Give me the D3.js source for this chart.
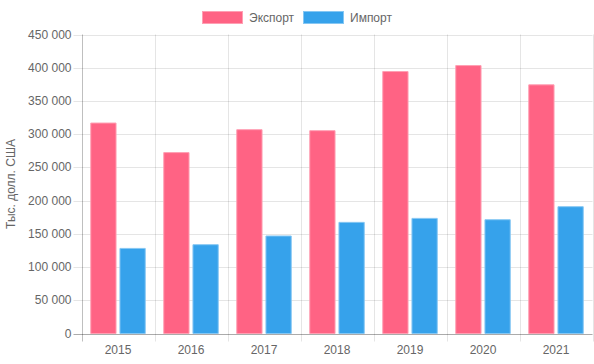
<!DOCTYPE html>
<html>
<head>
<meta charset="utf-8">
<script src="https://cdn.jsdelivr.net/npm/d3@7"></script>
<style>
  body { margin: 0; background: #fff; }
  text { font-family: "Liberation Sans", Arial, sans-serif; }
</style>
</head>
<body>
<svg id="chart" width="594" height="364"></svg>
<script>
// data
var years = ["2015", "2016", "2017", "2018", "2019", "2020", "2021"];
var seriesNames = ["Экспорт", "Импорт"];
var exportVals = [317500, 273000, 307500, 306000, 395000, 404000, 375000];
var importVals = [128800, 134400, 147500, 168000, 174000, 172000, 191600];
var yTicks = [0, 50000, 100000, 150000, 200000, 250000, 300000, 350000, 400000, 450000];

var fills = ["#ff6384", "#36a2eb"],
    borders = ["#ff9fb3", "#86c7f3"];

var svg = d3.select("#chart"),
    pLeft = 81.5, pRight = 592.5, pTop = 34.5, pBottom = 333.5; // plot area

var x = d3.scaleBand().domain(years).range([pLeft, pRight]); // category bands
var bw = x.bandwidth();
var xs = d3.scaleBand().domain(seriesNames) // bars inside a category
    .range([0.1 * bw, 0.9 * bw]).paddingInner(0.1).paddingOuter(0.05);
var y = d3.scaleLinear().domain([0, 450000]).range([pBottom, pTop]);

var fmt = function (v) { return d3.format(",")(v).replace(/,/g, " "); };

// horizontal grid + y ticks
svg.append("g").selectAll("line").data(yTicks).enter().append("line")
    .attr("x1", pLeft - 8).attr("x2", pRight)
    .attr("y1", function (d) { return Math.round(y(d)) + 0.5; })
    .attr("y2", function (d) { return Math.round(y(d)) + 0.5; })
    .attr("stroke", "rgba(0,0,0,0.1)");

svg.append("g").selectAll("text").data(yTicks).enter().append("text")
    .attr("x", pLeft - 10).attr("y", function (d) { return y(d) + 4; })
    .attr("text-anchor", "end").attr("font-size", 12).attr("fill", "#666")
    .text(fmt);

// vertical grid at category boundaries
var bounds = years.map(function (d) { return x(d); }).concat([pRight]);
svg.append("g").selectAll("line").data(bounds).enter().append("line")
    .attr("x1", function (d) { return Math.round(d) + 0.5; })
    .attr("x2", function (d) { return Math.round(d) + 0.5; })
    .attr("y1", pTop).attr("y2", pBottom + 8)
    .attr("stroke", function (d, i) { return i === 0 ? "rgba(0,0,0,0.25)" : "rgba(0,0,0,0.1)"; });

svg.append("g").selectAll("text").data(years).enter().append("text")
    .attr("x", function (d) { return x(d) + bw / 2; }).attr("y", 354)
    .attr("text-anchor", "middle").attr("font-size", 12).attr("fill", "#666")
    .text(function (d) { return d; });

// y title
svg.append("text")
    .attr("transform", "translate(15," + ((pTop + pBottom) / 2) + ") rotate(-90)")
    .attr("text-anchor", "middle").attr("font-size", 12).attr("fill", "#666")
    .text("Тыс. долл. США");

// bars
var rows = years.map(function (yr, i) {
    return [{ year: yr, s: 0, v: exportVals[i] }, { year: yr, s: 1, v: importVals[i] }];
});
svg.append("g").selectAll("g").data(rows).enter().append("g")
    .selectAll("path").data(function (d) { return d; }).enter().append("path")
    .attr("d", function (d) {
        var x0 = x(d.year) + xs(seriesNames[d.s]) + 0.5,
            x1 = x0 + xs.bandwidth() - 1,
            y0 = y(d.v) + 0.5;
        return "M" + x0 + "," + pBottom + "V" + y0 + "H" + x1 + "V" + pBottom + "Z";
    })
    .attr("fill", function (d) { return fills[d.s]; })
    .attr("stroke", function (d) { return borders[d.s]; })
    .attr("stroke-width", 1);

// base line over bars
svg.append("line").attr("x1", pLeft - 8).attr("x2", pRight)
    .attr("y1", Math.round(y(0)) + 0.5).attr("y2", Math.round(y(0)) + 0.5)
    .attr("stroke", "rgba(0,0,0,0.25)");

// legend
var legendX = [202, 303];
var lg = svg.append("g").selectAll("g").data(seriesNames).enter().append("g")
    .attr("transform", function (d, i) { return "translate(" + legendX[i] + ",11)"; });
lg.append("rect").attr("x", 0.5).attr("y", 0.5).attr("width", 40).attr("height", 12)
    .attr("fill", function (d, i) { return fills[i]; })
    .attr("stroke", function (d, i) { return borders[i]; });
lg.append("text").attr("x", 47).attr("y", 11).attr("font-size", 12).attr("fill", "#666")
    .text(function (d) { return d; });
</script>
</body>
</html>
